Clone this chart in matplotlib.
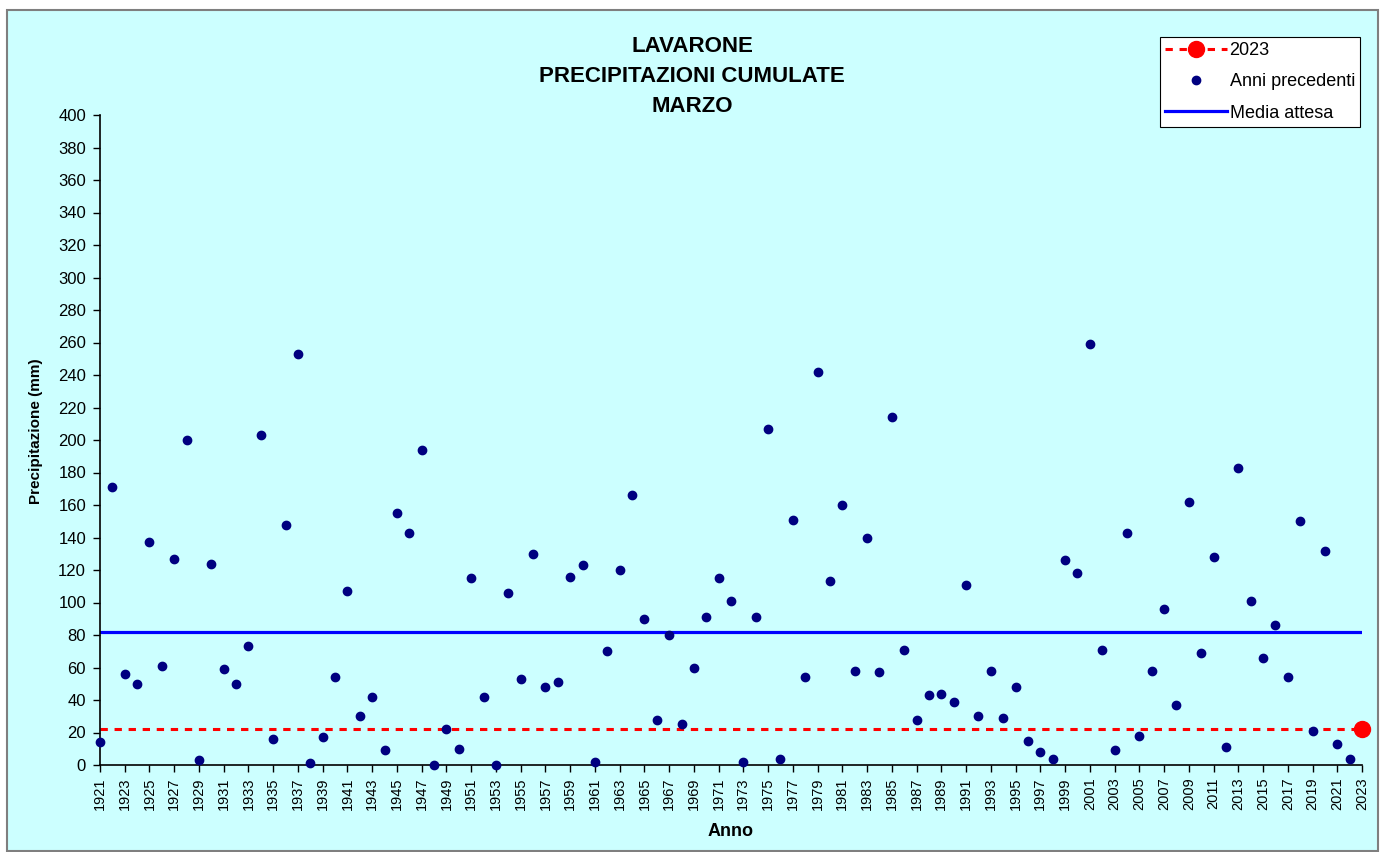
import matplotlib
matplotlib.use("Agg")
import matplotlib.pyplot as plt
from matplotlib.lines import Line2D
from matplotlib.patches import Rectangle

plt.rcParams["font.family"] = ["Liberation Sans", "DejaVu Sans"]

# March cumulative precipitation (mm) at Lavarone, 1921-2022
years = list(range(1921, 2023))
precip = [
    14, 171, 56, 50, 137, 61, 127, 200, 3, 124,      # 1921-1930
    59, 50, 73, 203, 16, 148, 253, 1, 17, 54,        # 1931-1940
    107, 30, 42, 9, 155, 143, 194, 0, 22, 10,        # 1941-1950
    115, 42, 0, 106, 53, 130, 48, 51, 116, 123,      # 1951-1960
    2, 70, 120, 166, 90, 28, 80, 25, 60, 91,         # 1961-1970
    115, 101, 2, 91, 207, 4, 151, 54, 242, 113,      # 1971-1980
    160, 58, 140, 57, 214, 71, 28, 43, 44, 39,       # 1981-1990
    111, 30, 58, 29, 48, 15, 8, 4, 126, 118,         # 1991-2000
    259, 71, 9, 143, 18, 58, 96, 37, 162, 69,        # 2001-2010
    128, 11, 183, 101, 66, 86, 54, 150, 21, 132,     # 2011-2020
    13, 4,                                           # 2021-2022
]
year_2023 = 2023
precip_2023 = 22
media_attesa = 82

first_year, last_year = 1921, 2023
W, H = 1385, 852

fig = plt.figure(figsize=(W / 100, H / 100), dpi=100, facecolor="white")
fig.patches.append(Rectangle((7 / W, 1 - 851 / H), (1378 - 7) / W, (851 - 10) / H,
                             transform=fig.transFigure, facecolor="#CCFFFF",
                             edgecolor="#7f7f7f", linewidth=1.5, zorder=-5))

ax = fig.add_axes([100 / W, 1 - 765 / H, (1362 - 100) / W, (765 - 115) / H])
ax.set_facecolor("none")

ax.plot([first_year, last_year], [media_attesa, media_attesa], color="#0000FF", lw=2.3, zorder=2)
ax.plot([first_year, last_year], [precip_2023, precip_2023], color="#FF0000", lw=2.2,
        linestyle=(0, (2.4, 2.2)), zorder=2)
ax.plot(years, precip, linestyle="none", marker="o", markersize=6, color="#000080",
        clip_on=False, zorder=3)
ax.plot([year_2023], [precip_2023], linestyle="none", marker="o", markersize=11.5,
        color="#FF0000", clip_on=False, zorder=4)

ax.set_xlim(first_year, last_year)
ax.set_ylim(0, 400)
ax.set_yticks(range(0, 401, 20))
ax.set_xticks(range(first_year, last_year + 1, 2))
ax.set_xticklabels([str(y) for y in range(first_year, last_year + 1, 2)], rotation=90)
ax.tick_params(axis="y", direction="out", length=5, width=1, pad=5, labelsize=12)
ax.tick_params(axis="x", direction="out", length=5, width=1, pad=4, labelsize=10.5)
for side in ("top", "right"):
    ax.spines[side].set_visible(False)
for side in ("left", "bottom"):
    ax.spines[side].set_linewidth(1.2)

fig.text(36 / W, 1 - 431 / H, "Precipitazione (mm)", rotation=90, ha="center", va="center",
         fontsize=11, fontweight="bold")
fig.text(731 / W, 1 - 831 / H, "Anno", ha="center", va="center", fontsize=13, fontweight="bold")

for text, ypix in (("LAVARONE", 46), ("PRECIPITAZIONI CUMULATE", 77), ("MARZO", 106)):
    fig.text(692 / W, 1 - ypix / H, text, ha="center", va="center", fontsize=16, fontweight="bold")

handles = [
    Line2D([], [], color="#FF0000", lw=2.2, linestyle=(0, (2.4, 2.2)), marker="o", markersize=11.5),
    Line2D([], [], color="#000080", linestyle="none", marker="o", markersize=6),
    Line2D([], [], color="#0000FF", lw=2.3),
]
leg = fig.legend(handles, ["2023", "Anni precedenti", "Media attesa"], loc="upper left",
                 bbox_to_anchor=(1160 / W, 1 - 37 / H), fontsize=13, frameon=True,
                 fancybox=False, edgecolor="black", facecolor="white", framealpha=1,
                 handlelength=3.4, handletextpad=0.15, labelspacing=0.78, borderpad=0.3,
                 borderaxespad=0, numpoints=1)
leg.get_frame().set_linewidth(0.8)

fig.savefig("out.png", dpi=100, facecolor=fig.get_facecolor())
